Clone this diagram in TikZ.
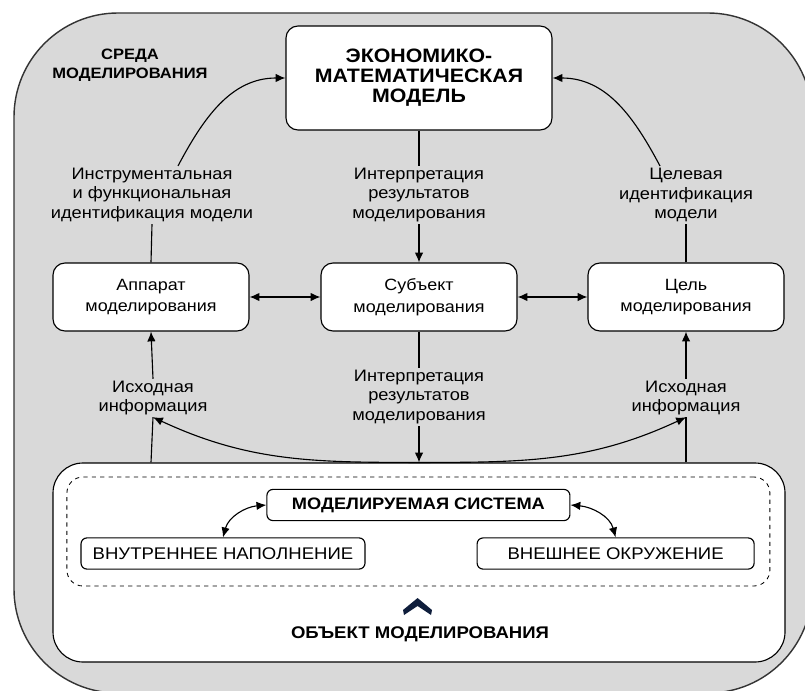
\documentclass[tikz,border=0pt]{standalone}
\usepackage{fontspec}
\setmainfont{Liberation Sans}[FakeStretch=1.1]
\usepackage{tikz}
\usetikzlibrary{positioning,arrows.meta}
\definecolor{envgray}{HTML}{D9D9D9}
\definecolor{chevnavy}{HTML}{0F1E3C}
\tikzstyle{block} = [rectangle, draw, fill=white, align=center,
    rounded corners=0.3cm, minimum width=4.9cm, minimum height=1.7cm,
    font=\fontsize{11.6}{15.4}\selectfont]
\tikzstyle{capbox} = [rectangle, draw, fill=white, rounded corners=0.15cm,
    minimum height=0.78cm, font=\fontsize{12}{14}\selectfont]
\tikzstyle{note} = [align=center, inner sep=1pt, font=\fontsize{11.8}{14}\selectfont]
\tikzstyle{heading} = [align=center, font=\bfseries\fontsize{10.7}{13.5}\selectfont]

\begin{document}
\begin{tikzpicture}[>={Latex[length=7pt,width=6pt]}, line width=0.8pt]
                \path[use as bounding box, clip] (0,0) rectangle (20.125,17.25);
                % Background
                \draw [fill=envgray, draw=black!80, line width=1pt, rounded corners=2.6cm]
                    (0.35,-0.075) rectangle (20.3,16.925);

                % Nodes
                \node [heading] (sreda) at (3.25,15.625) {СРЕДА\\МОДЕЛИРОВАНИЯ};
                \node [block, minimum width=6.65cm, minimum height=2.6cm,
                    font=\bfseries\fontsize{13.8}{14.2}\selectfont] (econ) at (10.475,15.3)
                    {ЭКОНОМИКО-\\МАТЕМАТИЧЕСКАЯ\\МОДЕЛЬ};

                \node [block] (app) at (3.775,9.825) {Аппарат\\моделирования};
                \node [block] (subj) at (10.475,9.825) {Субъект\\моделирования};
                \node [block] (goal) at (17.15,9.825) {Цель\\моделирования};

                \node [note] (instr) at (3.8,12.375) {Инструментальная\\и функциональная\\идентификация модели};
                \node [note] (interpA) at (10.475,12.375) {Интерпретация\\результатов\\моделирования};
                \node [note] (aim) at (17.15,12.375) {Целевая\\идентификация\\модели};

                \node [note] (interpB) at (10.475,7.325) {Интерпретация\\результатов\\моделирования};
                \node [note] (infoL) at (3.825,7.3) {Исходная\\информация};
                \node [note] (infoR) at (17.15,7.3) {Исходная\\информация};

                % Object of modelling
                \node [rectangle, draw, fill=white, rounded corners=0.75cm,
                    minimum width=18.3cm, minimum height=4.975cm] (obj) at (10.475,3.1875) {};
                \node [rectangle, draw, dashed, line width=0.6pt, rounded corners=0.4cm,
                    minimum width=17.575cm, minimum height=2.725cm] (sysframe) at (10.46,3.9625) {};
                \node [capbox, minimum width=7.575cm, font=\bfseries\fontsize{11.8}{14}\selectfont] (sys) at (10.46,4.625) {МОДЕЛИРУЕМАЯ СИСТЕМА};
                \node [capbox, minimum width=7.1cm] (inner) at (5.575,3.4125) {ВНУТРЕННЕЕ НАПОЛНЕНИЕ};
                \node [capbox, minimum width=6.925cm] (outer) at (15.39,3.4125) {ВНЕШНЕЕ ОКРУЖЕНИЕ};
                \node [heading, font=\bfseries\fontsize{12}{14}\selectfont] (objname) at (10.5,1.4) {ОБЪЕКТ МОДЕЛИРОВАНИЯ};
                \fill [chevnavy] (10.075,2.0) -- (10.44,2.3) -- (10.8,2.0) -- (10.775,1.875)
                    -- (10.44,2.1) -- (10.1,1.875) -- cycle;

                % Connections
                \draw (app.north) -- (instr.south);
                \draw [->] ([xshift=0.65cm]instr.north) to[out=62,in=180] (econ.west);
                \draw (goal.north) -- (aim.south);
                \draw [->] ([xshift=-0.65cm]aim.north) to[out=118,in=0] (econ.east);
                \draw (econ.south) -- (interpA.north);
                \draw [->] (interpA.south) -- (subj.north);

                \draw [<->] (app.east) -- (subj.west);
                \draw [<->] (subj.east) -- (goal.west);

                \draw (subj.south) -- (interpB.north);
                \draw [->] (interpB.south) -- (obj.north);
                \draw (app.south |- obj.north) -- (infoL.south);
                \draw [->] (infoL.north) -- (app.south);
                \draw (goal.south |- obj.north) -- (infoR.south);
                \draw [->] (infoR.north) -- (goal.south);
                \draw [->] (obj.north) to[out=180,in=-25] (infoL.south);
                \draw [->] (obj.north) to[out=0,in=205] (infoR.south);

                \draw [<->] (sys.west) to[out=185,in=75] (inner.north);
                \draw [<->] (sys.east) to[out=-5,in=105] (outer.north);

            \end{tikzpicture}
\end{document}
